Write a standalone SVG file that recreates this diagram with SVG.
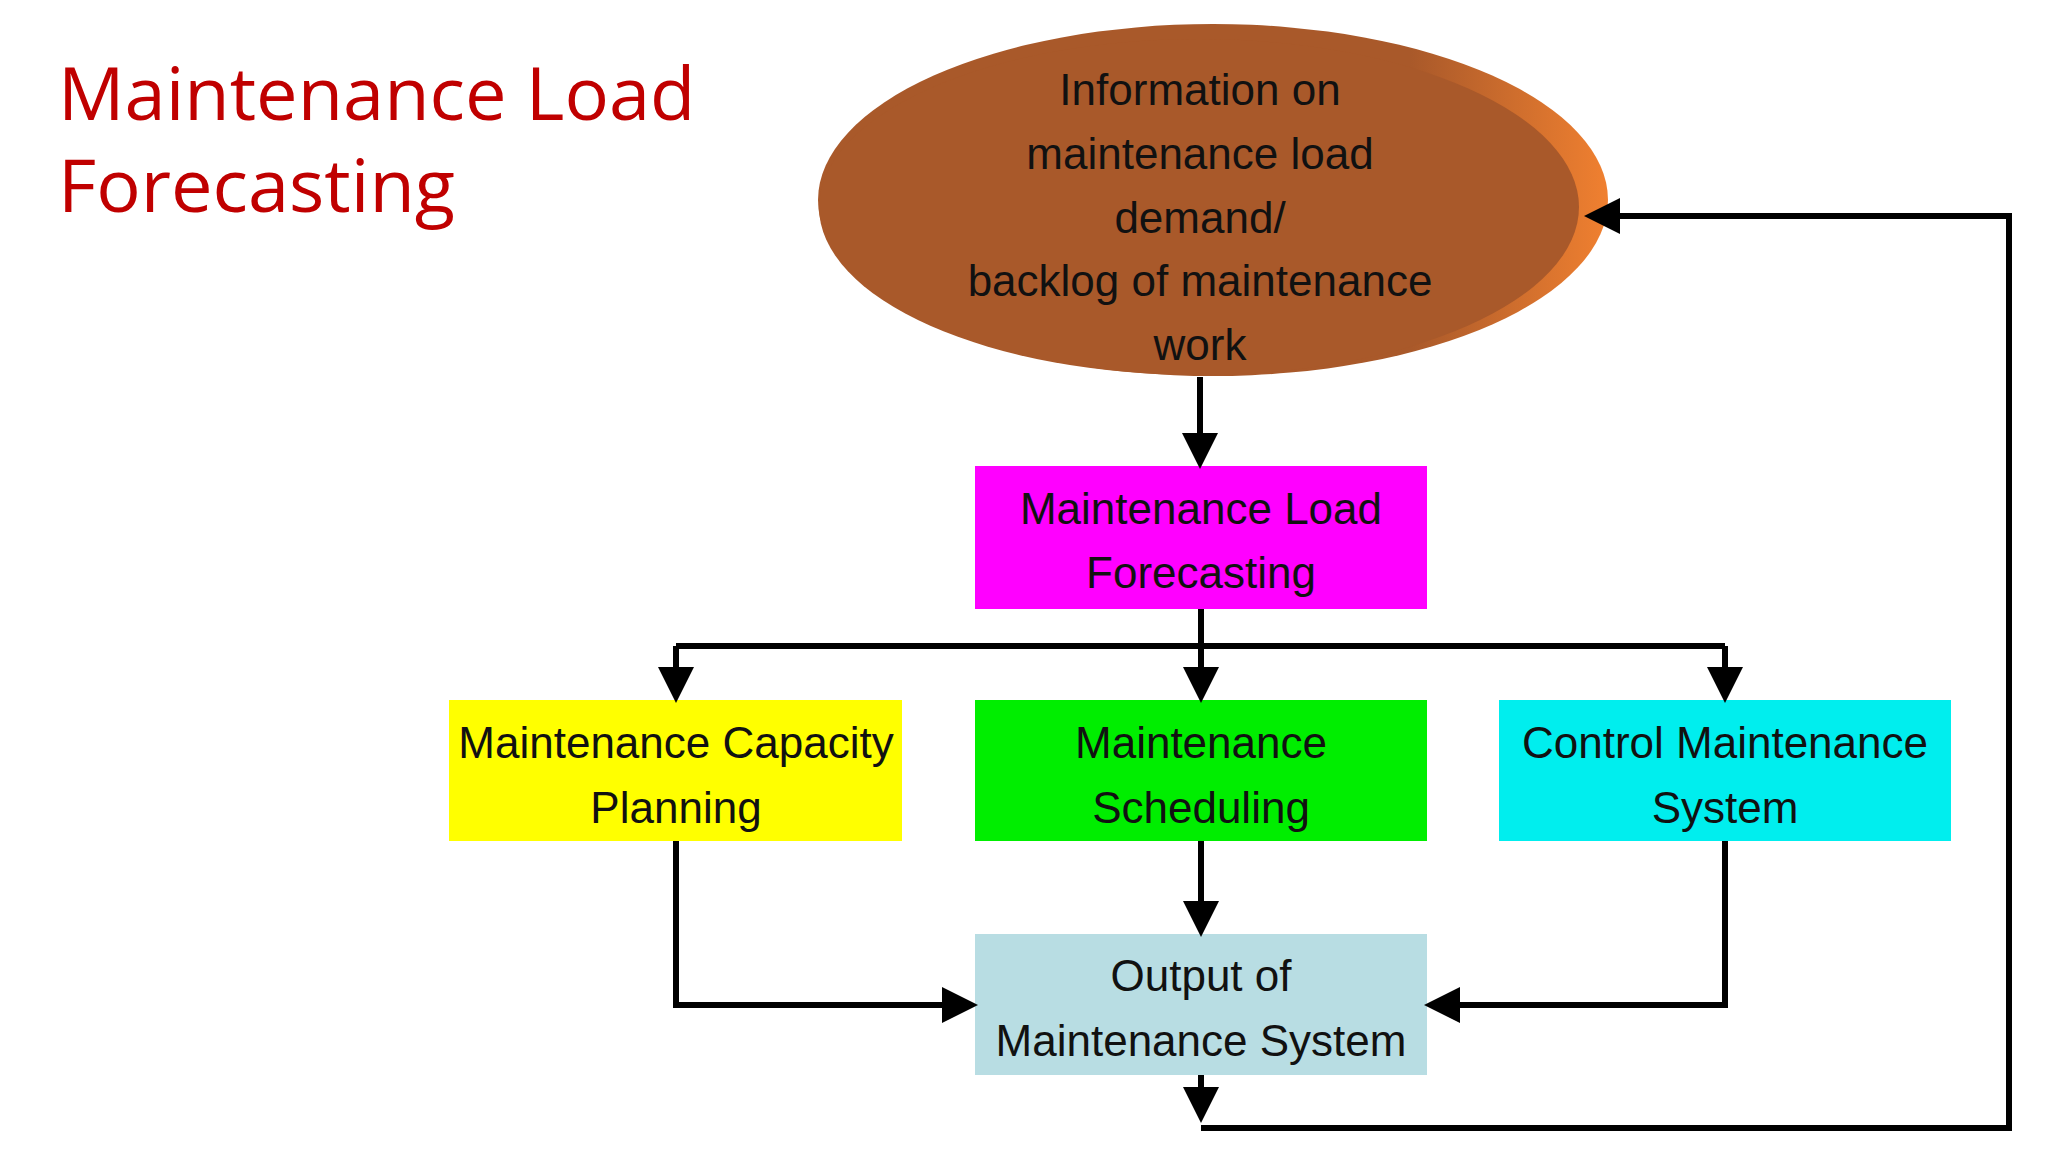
<svg xmlns="http://www.w3.org/2000/svg" width="2048" height="1152" viewBox="0 0 2048 1152">
<style>
.t{font-family:"Liberation Sans",Arial,sans-serif;font-size:44px;fill:#111;text-anchor:middle}
.c{stroke:#000;stroke-width:6;fill:none}
.title{font-family:"Open Sans","Liberation Sans",sans-serif;font-size:74px;fill:#C00000}
</style>
<defs>
<marker id="a" markerWidth="6" markerHeight="6" refX="5" refY="3" orient="auto" markerUnits="strokeWidth"><path d="M0,0 L6,3 L0,6 z" fill="#000"/></marker>
<linearGradient id="g" x1="0" y1="0" x2="1" y2="0"><stop offset="0" stop-color="#A9592A"/><stop offset="0.75" stop-color="#A9592A"/><stop offset="1" stop-color="#F08030"/></linearGradient>
</defs>
<rect width="2048" height="1152" fill="#fff"/>
<text class="title" x="58" y="120">Maintenance Load</text>
<text class="title" x="58" y="212">Forecasting</text>
<g transform="translate(-9,-5)">
<g id="n1"><ellipse cx="1222" cy="205" rx="395" ry="176" fill="url(#g)"/><ellipse cx="1208" cy="212" rx="380" ry="168" fill="#A9592A"/>
<text class="t" x="1209" y="110">Information on</text><text class="t" x="1209" y="174">maintenance load</text><text class="t" x="1209" y="238">demand/</text><text class="t" x="1209" y="301">backlog of maintenance</text><text class="t" x="1209" y="365">work</text></g>
<g id="n2"><rect x="984" y="471" width="452" height="143" fill="#FF00FF"/><text class="t" x="1210" y="529">Maintenance Load</text><text class="t" x="1210" y="593">Forecasting</text></g>
<g id="n3"><rect x="458" y="705" width="453" height="141" fill="#FFFF00"/><text class="t" x="685" y="763">Maintenance Capacity</text><text class="t" x="685" y="828">Planning</text></g>
<g id="n4"><rect x="984" y="705" width="452" height="141" fill="#00EE00"/><text class="t" x="1210" y="763">Maintenance</text><text class="t" x="1210" y="828">Scheduling</text></g>
<g id="n5"><rect x="1508" y="705" width="452" height="141" fill="#00EEEE"/><text class="t" x="1734" y="763">Control Maintenance</text><text class="t" x="1734" y="828">System</text></g>
<g id="n6"><rect x="984" y="939" width="452" height="141" fill="#B8DDE3"/><text class="t" x="1210" y="996">Output of</text><text class="t" x="1210" y="1061">Maintenance System</text></g>
<g id="connectors">
<path class="c" d="M1209,382 V468" marker-end="url(#a)"/>
<path class="c" d="M1210,614 V702" marker-end="url(#a)"/>
<path class="c" d="M685,651 H1734"/>
<path class="c" d="M685,651 V702" marker-end="url(#a)"/>
<path class="c" d="M1734,651 V702" marker-end="url(#a)"/>
<path class="c" d="M1210,846 V936" marker-end="url(#a)"/>
<path class="c" d="M685,846 V1010 H981" marker-end="url(#a)"/>
<path class="c" d="M1734,846 V1010 H1439" marker-end="url(#a)"/>
<path class="c" d="M1210,1080 V1122" marker-end="url(#a)"/>
<path class="c" d="M1210,1133 H2018 V221 H1599" marker-end="url(#a)"/>
</g>
</g>
</svg>
